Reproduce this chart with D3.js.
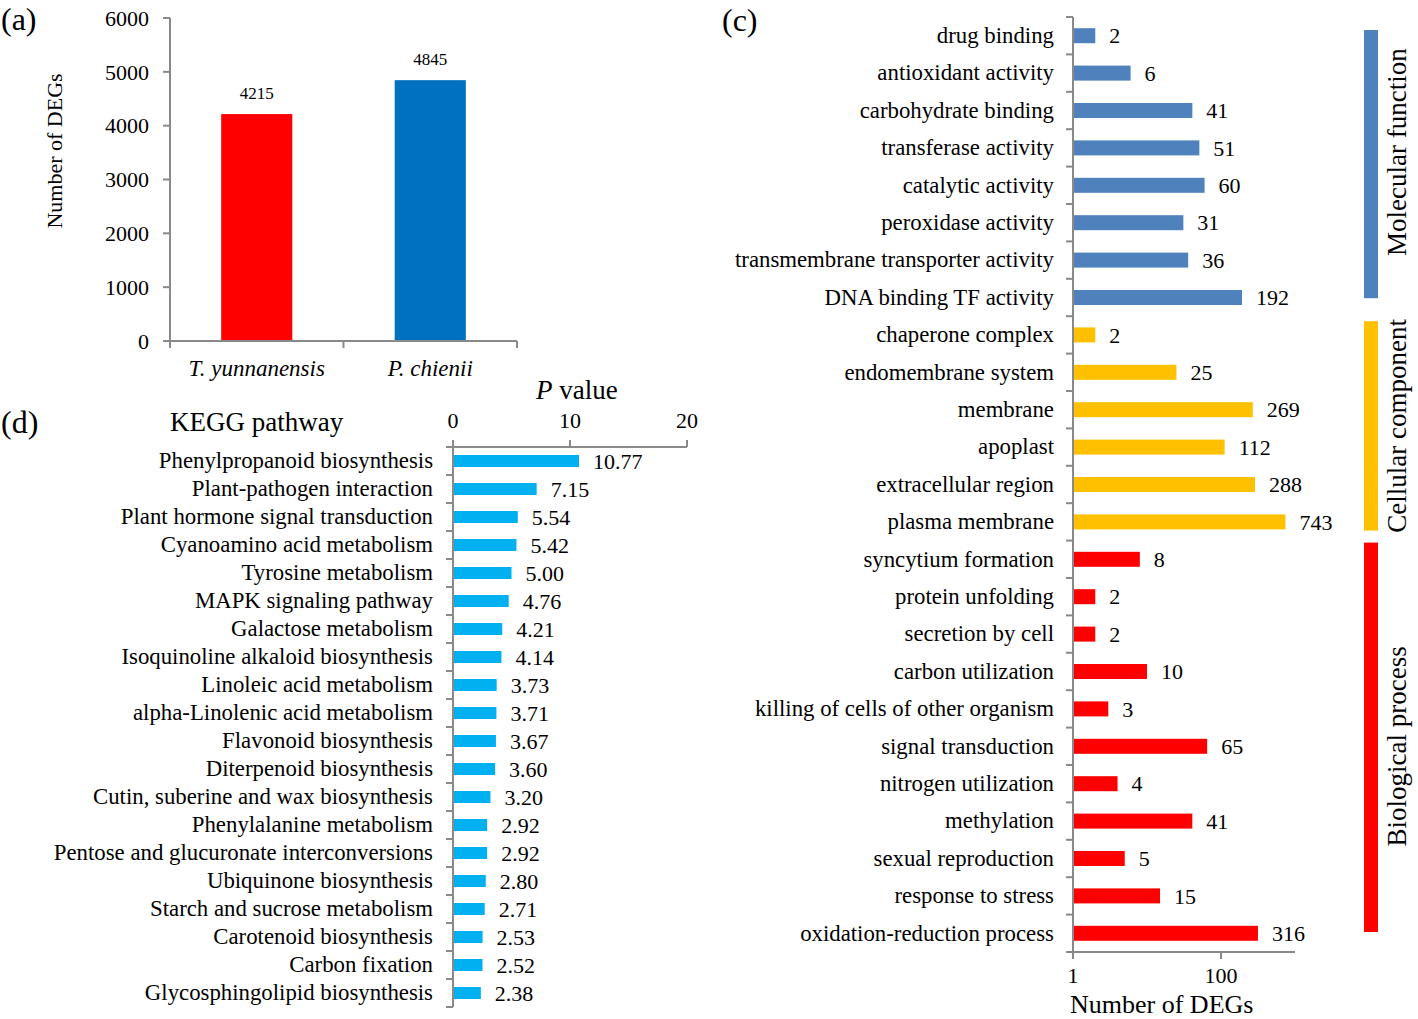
<!DOCTYPE html>
<html>
<head>
<meta charset="utf-8">
<script src="https://cdn.jsdelivr.net/npm/d3@7"></script>
<style>
  body { margin: 0; background: #fff; }
  svg { display: block; }
  text { font-family: "Liberation Serif", "Times New Roman", serif; fill: #000; }
</style>
</head>
<body>
<svg id="chart" width="1418" height="1019"></svg>
<script>
// ---------- Data ----------
// Panel (a)
const speciesNames = ["T. yunnanensis", "P. chienii"];
const speciesDEGs = [4215, 4845];
const speciesColors = ["#FF0000", "#0070C0"];
const aTicks = [0, 1000, 2000, 3000, 4000, 5000, 6000];

// Panel (c) GO categories
const goTerms = [
  "drug binding", "antioxidant activity", "carbohydrate binding", "transferase activity",
  "catalytic activity", "peroxidase activity", "transmembrane transporter activity", "DNA binding TF activity",
  "chaperone complex", "endomembrane system", "membrane", "apoplast", "extracellular region", "plasma membrane",
  "syncytium formation", "protein unfolding", "secretion by cell", "carbon utilization",
  "killing of cells of other organism", "signal transduction", "nitrogen utilization", "methylation",
  "sexual reproduction", "response to stress", "oxidation-reduction process"
];
const goCounts = [2, 6, 41, 51, 60, 31, 36, 192, 2, 25, 269, 112, 288, 743, 8, 2, 2, 10, 3, 65, 4, 41, 5, 15, 316];
const goGroup = ["MF","MF","MF","MF","MF","MF","MF","MF","CC","CC","CC","CC","CC","CC",
  "BP","BP","BP","BP","BP","BP","BP","BP","BP","BP","BP"];
const goGroupNames = ["Molecular function", "Cellular component", "Biological process"];
const goGroupKeys = ["MF", "CC", "BP"];
const goGroupColors = ["#4F81BD", "#FFC000", "#FF0000"];
const cTicks = [1, 100];

// Panel (d) KEGG
const keggPathways = [
  "Phenylpropanoid biosynthesis", "Plant-pathogen interaction", "Plant hormone signal transduction",
  "Cyanoamino acid metabolism", "Tyrosine metabolism", "MAPK signaling pathway", "Galactose metabolism",
  "Isoquinoline alkaloid biosynthesis", "Linoleic acid metabolism", "alpha-Linolenic acid metabolism",
  "Flavonoid biosynthesis", "Diterpenoid biosynthesis", "Cutin, suberine and wax biosynthesis",
  "Phenylalanine metabolism", "Pentose and glucuronate interconversions", "Ubiquinone biosynthesis",
  "Starch and sucrose metabolism", "Carotenoid biosynthesis", "Carbon fixation", "Glycosphingolipid biosynthesis"
];
const keggP = [10.77, 7.15, 5.54, 5.42, 5.00, 4.76, 4.21, 4.14, 3.73, 3.71, 3.67, 3.60, 3.20, 2.92, 2.92, 2.80, 2.71, 2.53, 2.52, 2.38];
const dTicks = [0, 10, 20];

// ---------- Drawing ----------
const svg = d3.select("#chart");
const axisColor = "#898989";
const tickLen = 7;

// ===== Panel (a) =====
{
  const g = svg.append("g");
  const x = d3.scaleBand().domain(speciesNames).range([170, 517]).paddingInner(0.59).paddingOuter(0.295);
  const y = d3.scaleLinear().domain([0, 6000]).range([341, 18]);

  g.selectAll("rect.bar").data(speciesNames).enter().append("rect")
    .attr("x", d => x(d)).attr("width", x.bandwidth())
    .attr("y", (d, i) => y(speciesDEGs[i])).attr("height", (d, i) => y(0) - y(speciesDEGs[i]))
    .attr("fill", (d, i) => speciesColors[i]);

  g.selectAll("text.val").data(speciesNames).enter().append("text")
    .attr("x", d => x(d) + x.bandwidth() / 2).attr("y", (d, i) => y(speciesDEGs[i]) - 15)
    .attr("text-anchor", "middle").style("font-size", "17px")
    .text((d, i) => speciesDEGs[i]);

  // y axis
  g.append("line").attr("x1", 170).attr("x2", 170).attr("y1", y(6000)).attr("y2", y(0))
    .attr("stroke", axisColor).attr("stroke-width", 2);
  g.selectAll("line.yt").data(aTicks).enter().append("line")
    .attr("x1", 170 - tickLen).attr("x2", 170).attr("y1", d => y(d)).attr("y2", d => y(d))
    .attr("stroke", axisColor).attr("stroke-width", 2);
  g.selectAll("text.yt").data(aTicks).enter().append("text")
    .attr("x", 149).attr("y", d => y(d)).attr("dy", "0.35em").attr("text-anchor", "end")
    .style("font-size", "22px").text(d => d);
  // x axis
  g.append("line").attr("x1", 170).attr("x2", 517).attr("y1", y(0)).attr("y2", y(0))
    .attr("stroke", axisColor).attr("stroke-width", 2);
  const xb = [170, (170 + 517) / 2, 517];
  g.selectAll("line.xt").data(xb).enter().append("line")
    .attr("x1", d => d).attr("x2", d => d).attr("y1", y(0)).attr("y2", y(0) + tickLen)
    .attr("stroke", axisColor).attr("stroke-width", 2);
  g.selectAll("text.xl").data(speciesNames).enter().append("text")
    .attr("x", d => x(d) + x.bandwidth() / 2).attr("y", 376)
    .attr("text-anchor", "middle").style("font-size", "23px").style("font-style", "italic")
    .text(d => d);
  g.append("text").attr("transform", "translate(62,151) rotate(-90)")
    .attr("text-anchor", "middle").style("font-size", "22px").text("Number of DEGs");
  g.append("text").attr("x", 1).attr("y", 30).style("font-size", "32px").text("(a)");
}

// ===== Panel (c) =====
{
  const g = svg.append("g");
  const x = d3.scaleLog().domain([1, 1000]).range([1073, 1295]);
  const y = d3.scaleBand().domain(goTerms).range([17, 952]).padding(0);
  const barH = 15;
  const colorOf = k => goGroupColors[goGroupKeys.indexOf(k)];

  g.selectAll("rect.bar").data(goTerms).enter().append("rect")
    .attr("x", x(1)).attr("y", d => y(d) + y.bandwidth() / 2 - barH / 2)
    .attr("width", (d, i) => x(goCounts[i]) - x(1)).attr("height", barH)
    .attr("fill", (d, i) => colorOf(goGroup[i]));

  g.selectAll("text.val").data(goTerms).enter().append("text")
    .attr("x", (d, i) => x(goCounts[i]) + 14).attr("y", d => y(d) + y.bandwidth() / 2)
    .attr("dy", "0.35em").style("font-size", "22px").text((d, i) => goCounts[i]);

  g.selectAll("text.cat").data(goTerms).enter().append("text")
    .attr("x", 1054).attr("y", d => y(d) + y.bandwidth() / 2)
    .attr("dy", "0.32em").attr("text-anchor", "end").style("font-size", "22.8px").text(d => d);

  // vertical axis
  g.append("line").attr("x1", x(1)).attr("x2", x(1)).attr("y1", 17).attr("y2", 952)
    .attr("stroke", axisColor).attr("stroke-width", 2);
  const bnd = goTerms.map(d => y(d)).concat([952]);
  g.selectAll("line.yt").data(bnd).enter().append("line")
    .attr("x1", x(1) - tickLen).attr("x2", x(1)).attr("y1", d => d).attr("y2", d => d)
    .attr("stroke", axisColor).attr("stroke-width", 2);
  // horizontal axis
  g.append("line").attr("x1", x(1)).attr("x2", x(1000)).attr("y1", 952).attr("y2", 952)
    .attr("stroke", axisColor).attr("stroke-width", 2);
  g.selectAll("line.xt").data(cTicks).enter().append("line")
    .attr("x1", d => x(d)).attr("x2", d => x(d)).attr("y1", 952).attr("y2", 952 + tickLen)
    .attr("stroke", axisColor).attr("stroke-width", 2);
  g.selectAll("text.xt").data(cTicks).enter().append("text")
    .attr("x", d => x(d)).attr("y", 983).attr("text-anchor", "middle")
    .style("font-size", "22px").text(d => d);
  g.append("text").attr("x", 1070).attr("y", 1013).style("font-size", "26px").text("Number of DEGs");
  g.append("text").attr("x", 722).attr("y", 31).style("font-size", "32px").text("(c)");

  // group side bars (inset of the coloured bracket bar from its row block, and label shift)
  const insetTop = [13, 5, 2];
  const insetBot = [18, 10, 20];
  const labelShift = [-12, 0, 9];
  goGroupKeys.forEach((k, gi) => {
    const idx = goGroup.map((v, i) => v === k ? i : -1).filter(i => i >= 0);
    const top = y(goTerms[idx[0]]) + insetTop[gi];
    const bot = y(goTerms[idx[idx.length - 1]]) + y.bandwidth() - insetBot[gi];
    g.append("rect").attr("x", 1364).attr("y", top).attr("width", 14).attr("height", bot - top)
      .attr("fill", goGroupColors[gi]);
    g.append("text").attr("transform", `translate(1406,${(top + bot) / 2 + labelShift[gi]}) rotate(-90)`)
      .attr("text-anchor", "middle").style("font-size", "27px").text(goGroupNames[gi]);
  });
}

// ===== Panel (d) =====
{
  const g = svg.append("g");
  const x = d3.scaleLinear().domain([0, 20]).range([453, 687]);
  const y = d3.scaleBand().domain(keggPathways).range([447, 1007]).padding(0);
  const barH = 12;

  g.selectAll("rect.bar").data(keggPathways).enter().append("rect")
    .attr("x", x(0)).attr("y", d => y(d) + y.bandwidth() / 2 - barH / 2)
    .attr("width", (d, i) => x(keggP[i]) - x(0)).attr("height", barH)
    .attr("fill", "#00B0F0");

  g.selectAll("text.val").data(keggPathways).enter().append("text")
    .attr("x", (d, i) => x(keggP[i]) + 14).attr("y", d => y(d) + y.bandwidth() / 2)
    .attr("dy", "0.35em").style("font-size", "22px").text((d, i) => keggP[i].toFixed(2));

  g.selectAll("text.cat").data(keggPathways).enter().append("text")
    .attr("x", 433).attr("y", d => y(d) + y.bandwidth() / 2)
    .attr("dy", "0.32em").attr("text-anchor", "end").style("font-size", "22.8px").text(d => d);

  g.append("line").attr("x1", x(0)).attr("x2", x(0)).attr("y1", 447).attr("y2", 1007)
    .attr("stroke", axisColor).attr("stroke-width", 2);
  const bnd = keggPathways.map(d => y(d)).concat([1007]);
  g.selectAll("line.yt").data(bnd).enter().append("line")
    .attr("x1", x(0) - tickLen).attr("x2", x(0)).attr("y1", d => d).attr("y2", d => d)
    .attr("stroke", axisColor).attr("stroke-width", 2);
  g.append("line").attr("x1", x(0)).attr("x2", x(20)).attr("y1", 447).attr("y2", 447)
    .attr("stroke", axisColor).attr("stroke-width", 2);
  g.selectAll("line.xt").data(dTicks).enter().append("line")
    .attr("x1", d => x(d)).attr("x2", d => x(d)).attr("y1", 447 - tickLen).attr("y2", 447)
    .attr("stroke", axisColor).attr("stroke-width", 2);
  g.selectAll("text.xt").data(dTicks).enter().append("text")
    .attr("x", d => x(d)).attr("y", 428).attr("text-anchor", "middle")
    .style("font-size", "22px").text(d => d);

  const pv = g.append("text").attr("x", 536).attr("y", 399).style("font-size", "27px");
  pv.append("tspan").style("font-style", "italic").text("P");
  pv.append("tspan").text(" value");
  g.append("text").attr("x", 170).attr("y", 431).style("font-size", "27px").text("KEGG pathway");
  g.append("text").attr("x", 1).attr("y", 433).style("font-size", "32px").text("(d)");
}
</script>
</body>
</html>
